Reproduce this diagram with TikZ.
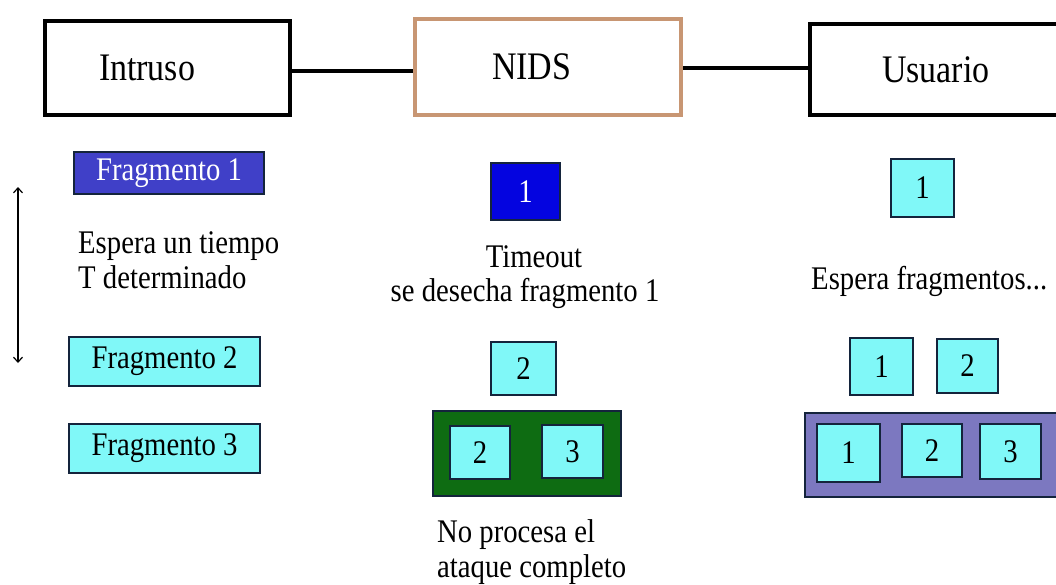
\documentclass[tikz,border=0pt]{standalone}
\usepackage{fontspec}
\setmainfont{Liberation Serif}[FakeStretch=0.87]
\usetikzlibrary{arrows.meta}
\definecolor{fragblue}{RGB}{64,64,200}
\definecolor{deepblue}{RGB}{4,4,224}
\definecolor{fragcyan}{RGB}{128,248,248}
\definecolor{boxgreen}{RGB}{14,108,18}
\definecolor{boxpurple}{RGB}{124,120,192}
\definecolor{tanborder}{RGB}{200,150,115}
\definecolor{edgedark}{RGB}{20,36,60}
\tikzset{
  headbox/.style={draw, line width=4pt, fill=white, minimum height=94pt, align=left,
    font=\fontsize{39}{42}\selectfont, inner ysep=0pt},
  link/.style={line width=4pt},
  frag/.style={draw=edgedark, line width=1.3pt, fill=fragcyan, inner sep=0pt,
    font=\fontsize{33}{36}\selectfont},
  bodytxt/.style={inner sep=0pt, font=\fontsize{33}{36}\selectfont},
  holder/.style={draw=edgedark, line width=1.3pt, inner sep=0pt}
}
\begin{document}
\begin{tikzpicture}[x=1pt,y=-1pt]
\useasboundingbox (0,0) rectangle (1056,584);
\clip (0,0) rectangle (1056,584);
\fill[white] (0,0) rectangle (1056,584);

% header boxes
\node[headbox, inner xsep=54pt, text width=137pt] (intruso) at (167.5,68) {Intruso};
\node[headbox, draw=tanborder, inner xsep=77pt, text width=112pt, minimum height=96pt] (nids) at (548,67) {NIDS};
\node[headbox, inner xsep=72pt, text width=116pt, minimum height=91pt] (usuario) at (940,69.5) {Usuario};

\draw[link] (intruso.east |- 0,70.5) -- (nids.west |- 0,70.5);
\draw[link] (nids.east |- 0,68) -- (usuario.west |- 0,68);

% Intruso column
\node[frag, fill=fragblue, text=white, minimum width=190pt, minimum height=42pt] (f1) at (169,173) {Fragmento 1};
\node[bodytxt, anchor=base west] (esp1) at (78,253) {Espera un tiempo};
\node[bodytxt, anchor=base west] (esp2) at (78,288) {T determinado};
\node[frag, minimum width=191pt, minimum height=49pt] (f2) at (164.5,361.5) {Fragmento 2};
\node[frag, minimum width=191pt, minimum height=49pt] (f3) at (164.5,448.5) {Fragmento 3};
\coordinate (ttop) at (18,187);
\coordinate (tbot) at (18,363);
\draw[line width=1.2pt, {Straight Barb[length=5pt,width=9pt]}-{Straight Barb[length=5pt,width=9pt]}] (ttop) -- (tbot);

% NIDS column
\node[frag, fill=deepblue, text=white, minimum width=69pt, minimum height=57pt] (n1) at (525.5,191.5) {1};
\node[bodytxt, anchor=base] (tout) at (534,267) {Timeout};
\node[bodytxt, anchor=base] (desecha) at (525,301) {se desecha fragmento 1};
\node[frag, minimum width=65pt, minimum height=53pt] (n2) at (523.5,368.5) {2};
\node[holder, fill=boxgreen, minimum width=188pt, minimum height=85pt] (green) at (527,453.5) {};
\node[frag, minimum width=60pt, minimum height=53pt] (g2) at (480,452.5) {2};
\node[frag, minimum width=61pt, minimum height=53pt] (g3) at (572.5,451.5) {3};
\node[bodytxt, anchor=base west] (nop1) at (437,542) {No procesa el};
\node[bodytxt, anchor=base west] (nop2) at (437,577) {ataque completo};

% Usuario column
\node[frag, minimum width=63pt, minimum height=58pt] (u1) at (922.5,188) {1};
\node[bodytxt, anchor=base west] (espf) at (811,289) {Espera fragmentos...};
\node[frag, minimum width=63pt, minimum height=57pt] (ua) at (881.5,366.5) {1};
\node[frag, minimum width=61pt, minimum height=54pt] (ub) at (967.5,366) {2};
\node[holder, fill=boxpurple, minimum width=263pt, minimum height=84pt] (purple) at (936.5,455) {};
\node[frag, minimum width=63pt, minimum height=58pt] (p1) at (848.5,453) {1};
\node[frag, minimum width=60pt, minimum height=53pt] (p2) at (932,450.5) {2};
\node[frag, minimum width=61pt, minimum height=55pt] (p3) at (1010.5,451.5) {3};
\end{tikzpicture}
\end{document}
